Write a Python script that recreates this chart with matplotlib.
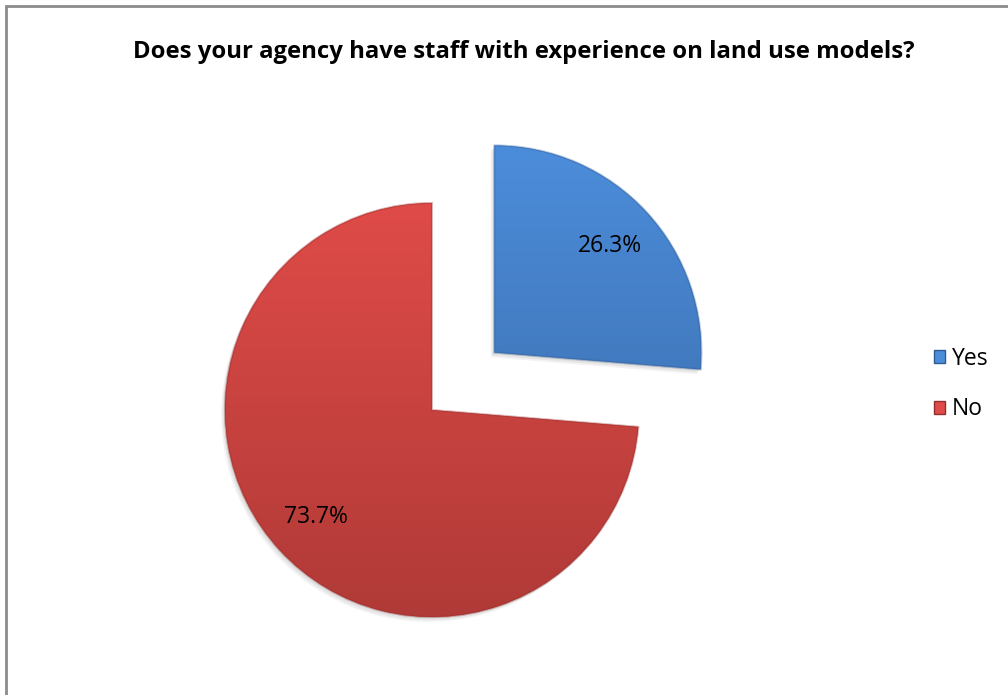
import numpy as np
import matplotlib.pyplot as plt
from matplotlib.patches import Rectangle, Wedge, Patch
from matplotlib.colors import LinearSegmentedColormap

labels = ['Yes', 'No']
shares = [26.3, 73.7]
explode = [0.41, 0.0]
top_colors = ['#4c8ddb', '#df4b48']
bottom_colors = ['#3a6aa8', '#b03a37']
edge_colors = ['#2f5a90', '#922e2c']

plt.rcParams['font.family'] = ['Open Sans', 'DejaVu Sans']

W, H = 1008, 695
fig = plt.figure(figsize=(W / 100, H / 100), dpi=100)
fig.patch.set_facecolor('white')

# outer chart frame (runs off the right/bottom edges)
fig.add_artist(Rectangle((6 / W, -0.05), 1.1, (H - 6) / H + 0.05,
                         transform=fig.transFigure, fill=False,
                         edgecolor='#8c8c8c', linewidth=2))

# pie axes: centre at (432, 410) px from top-left, radius 207 px
R = 207
half = 280
cx, cy = 432, H - 410
ax = fig.add_axes([(cx - half) / W, (cy - half) / H, 2 * half / W, 2 * half / H])
lim = half / R

wedges, texts, autotexts = ax.pie(
    shares, explode=explode, startangle=90, counterclock=False,
    colors=top_colors, autopct='%1.1f%%', pctdistance=0.76,
    wedgeprops=dict(linewidth=0), textprops=dict(fontsize=16.5, color='black'))

ax.set_xlim(-lim, lim)
ax.set_ylim(-lim, lim)
ax.set_aspect('equal')
ax.axis('off')

for i, w in enumerate(wedges):
    # soft drop shadow, layered for a blurred edge
    for k, a in enumerate([0.05, 0.05, 0.05]):
        d = 0.006 * (k + 1)
        ax.add_patch(Wedge((w.center[0] - d, w.center[1] - 1.3 * d), w.r, w.theta1, w.theta2,
                           facecolor='black', alpha=a, linewidth=0, zorder=0))
    # vertical gradient fill clipped to the wedge
    cmap = LinearSegmentedColormap.from_list('g', [bottom_colors[i], top_colors[i]])
    grad = np.linspace(0, 1, 256).reshape(-1, 1)
    cxw, cyw = w.center
    im = ax.imshow(grad, cmap=cmap, origin='lower', aspect='auto',
                   extent=[cxw - 1, cxw + 1, cyw - 1, cyw + 1], zorder=1)
    im.set_clip_path(w)
    w.set_zorder(0.5)
    # faint bevel rim
    ax.add_patch(Wedge(w.center, w.r, w.theta1, w.theta2, facecolor='none',
                       edgecolor=edge_colors[i], linewidth=1.5, alpha=0.35, zorder=2))

for t in autotexts:
    t.set_zorder(5)
for t in texts:
    t.set_visible(False)

fig.text(524 / W, (H - 52) / H, 'Does your agency have staff with experience on land use models?',
         ha='center', va='center', fontsize=17.2, fontweight='bold')

# legend with square markers
handles = [Patch(facecolor=top_colors[i], edgecolor=edge_colors[i]) for i in range(len(labels))]
fig.legend(handles, labels, loc='center left', bbox_to_anchor=(913 / W, (H - 384) / H),
           frameon=False, fontsize=16.5, handlelength=0.5, handleheight=0.5,
           handletextpad=0.3, labelspacing=1.15)

fig.savefig('out.png', dpi=100)
